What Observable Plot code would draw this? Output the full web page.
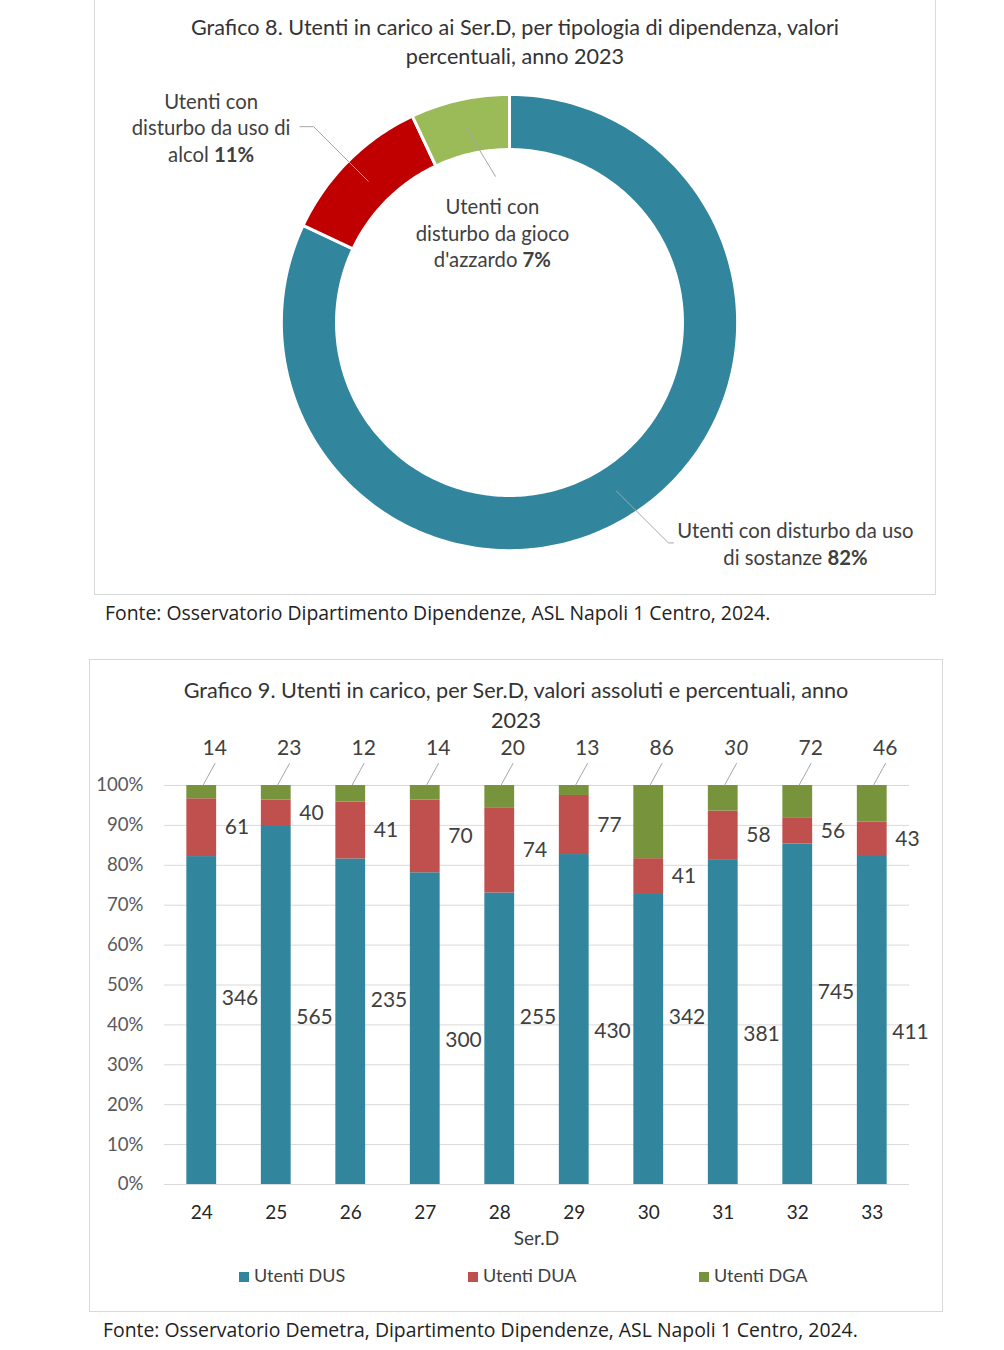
<!DOCTYPE html>
<html>
<head>
<meta charset="utf-8">
<script src="https://cdn.jsdelivr.net/npm/d3@7"></script>
<script src="https://cdn.jsdelivr.net/npm/@observablehq/plot@0.6"></script>
<style>
  body { margin: 0; background: #fff; font-family: Lato, sans-serif; color: #404040; }
  #page { position: relative; width: 1004px; height: 1350px; overflow: hidden; background: #fff; }
  .panel { position: absolute; border: 1.5px solid #d9d9d9; box-sizing: border-box; }
  .title { position: absolute; text-align: center; font-size: 21.6px; color: #333; white-space: nowrap; }
  .src { position: absolute; font-family: "Open Sans", sans-serif; font-size: 19.4px; line-height: 26px; color: #222; white-space: nowrap; }
  .chart { position: absolute; left: 0; }
  .legend { position: absolute; top: 1263px; font-size: 18px; line-height: 24px; color: #404040; white-space: nowrap; }
  .legend span.sw { display: inline-block; width: 10px; height: 10px; margin-right: 5px; vertical-align: 0px; }
  .axtitle { position: absolute; left: 164px; width: 745px; top: 1226px; text-align: center; font-size: 19px; line-height: 24px; color: #404040; }
</style>
</head>
<body>
<div id="page">
  <div class="panel" style="left:94px;top:-10px;width:842px;height:605px;"></div>
  <div class="title" style="left:94px;width:842px;top:13px;line-height:29px;">Grafico 8. Utenti in carico ai Ser.D, per tipologia di dipendenza, valori<br>percentuali, anno 2023</div>
  <div id="donut" class="chart" style="top:80px;"></div>
  <div class="src" style="left:105px;top:600px;">Fonte: Osservatorio Dipartimento Dipendenze, ASL Napoli 1 Centro, 2024.</div>

  <div class="panel" style="left:89px;top:659px;width:854px;height:653px;"></div>
  <div class="title" style="left:89px;width:854px;top:675px;line-height:30px;">Grafico 9. Utenti in carico, per Ser.D, valori assoluti e percentuali, anno<br>2023</div>
  <div id="bars" class="chart" style="top:735px;"></div>
  <div class="axtitle">Ser.D</div>
  <div id="legend"></div>
  <div class="src" style="left:103px;top:1317px;">Fonte: Osservatorio Demetra, Dipartimento Dipendenze, ASL Napoli 1 Centro, 2024.</div>
</div>

<script>
// ---------------- DATA ----------------
// Grafico 8
const donutCategories = [
  "Utenti con disturbo da uso di sostanze",
  "Utenti con disturbo da uso di alcol",
  "Utenti con disturbo da gioco d'azzardo"
];
const donutShares = [82, 11, 7];

// Grafico 9
const serd = ["24", "25", "26", "27", "28", "29", "30", "31", "32", "33"];
const seriesNames = ["Utenti DUS", "Utenti DUA", "Utenti DGA"];
const utentiDUS = [346, 565, 235, 300, 255, 430, 342, 381, 745, 411];
const utentiDUA = [61, 40, 41, 70, 74, 77, 41, 58, 56, 43];
const utentiDGA = [14, 23, 12, 14, 20, 13, 86, 30, 72, 46];
const yTicks = [0, 0.1, 0.2, 0.3, 0.4, 0.5, 0.6, 0.7, 0.8, 0.9, 1];

// ---------------- STYLE ----------------
const donutColors = ["#31859C", "#C00000", "#9BBB59"];
const barColors = ["#31859C", "#C0504D", "#77933C"];
const leaderColor = "#a6a6a6";
const labelColor = "#404040";
// label wrapping and placement (layout only)
const donutLabelLayout = {
  "Utenti con disturbo da uso di sostanze": {text: "Utenti con disturbo da uso\ndi sostanze", r: 1.15, ex: 0.084, hook: 0.022, dx: 122, dy: 0},
  "Utenti con disturbo da uso di alcol": {text: "Utenti con\ndisturbo da uso di\nalcol", r: 1.22, ex: 0, hook: -0.06, dx: -89, dy: 0},
  "Utenti con disturbo da gioco d'azzardo": {text: "Utenti con\ndisturbo da gioco\nd'azzardo", r: 0.66, ex: 0.082, hook: 0, dx: -3, dy: 56}
};
const italicLabels = new Set(["31"]);

// ---------------- DONUT ----------------
const total = d3.sum(donutShares);
let acc = 0;
const slices = donutShares.map((v, i) => {
  const a0 = acc / total * 2 * Math.PI; acc += v;
  const a1 = acc / total * 2 * Math.PI;
  return {key: donutCategories[i], value: v, a0, a1, mid: (a0 + a1) / 2};
});
const R1 = 1.005, R0 = 0.762;
const arcPts = slices.flatMap(s => {
  const n = Math.max(2, Math.ceil((s.a1 - s.a0) / (Math.PI / 180)));
  const pts = [];
  for (let k = 0; k <= n; k++) { const a = s.a0 + (s.a1 - s.a0) * k / n; pts.push({key: s.key, x: R1 * Math.sin(a), y: R1 * Math.cos(a)}); }
  for (let k = n; k >= 0; k--) { const a = s.a0 + (s.a1 - s.a0) * k / n; pts.push({key: s.key, x: R0 * Math.sin(a), y: R0 * Math.cos(a)}); }
  return pts;
});
const leaderPts = slices.flatMap(s => {
  const L = donutLabelLayout[s.key];
  const dx = Math.sin(s.mid), dy = Math.cos(s.mid);
  const ex = dx * L.r + L.ex, ey = dy * L.r;
  const pts = [
    {key: s.key, x: dx * 0.88, y: dy * 0.88},
    {key: s.key, x: ex, y: ey}
  ];
  if (L.hook) pts.push({key: s.key, x: ex + L.hook, y: ey});
  return pts;
});
const labelPts = slices.map(s => {
  const L = donutLabelLayout[s.key];
  const dx = Math.sin(s.mid), dy = Math.cos(s.mid);
  return {key: s.key, x: dx * L.r + L.ex + L.hook, y: dy * L.r,
          text: L.text + " " + Math.round(s.value / total * 100) + "%", ldx: L.dx, ldy: L.dy};
});

const donut = Plot.plot({
  width: 1004, height: 500,
  marginLeft: 282, marginRight: 268, marginTop: 15, marginBottom: 31,
  x: {domain: [-1, 1], axis: null},
  y: {domain: [-1, 1], axis: null},
  color: {domain: donutCategories, range: donutColors},
  style: {fontFamily: "Lato, sans-serif", fontSize: "20px", color: labelColor, background: "transparent", overflow: "visible"},
  marks: [
    Plot.line(arcPts, {x: "x", y: "y", z: "key", fill: "key", stroke: "white", strokeWidth: 3, curve: "linear-closed"}),
    Plot.line(leaderPts, {x: "x", y: "y", z: "key", stroke: leaderColor, strokeWidth: 1}),
    ...labelPts.map(l => Plot.text([l], {x: "x", y: "y", text: "text", dx: l.ldx, dy: l.ldy, textAnchor: "middle", lineAnchor: "middle", lineHeight: 1.3, fill: labelColor, fontSize: 20.3}))
  ]
});
document.getElementById("donut").appendChild(donut);

// bold the percentages
function boldPercent(root) {
  root.querySelectorAll("text").forEach(t => {
    const targets = t.querySelectorAll("tspan").length ? t.querySelectorAll("tspan") : [t];
    targets.forEach(el => {
      const m = /^(.*?)(\d+%)$/.exec(el.textContent);
      if (!m) return;
      el.textContent = m[1];
      const b = document.createElementNS("http://www.w3.org/2000/svg", "tspan");
      b.setAttribute("font-weight", "bold");
      b.textContent = m[2];
      el.appendChild(b);
    });
  });
}
boldPercent(donut);

// ---------------- BARS ----------------
const rows = serd.map((s, i) => {
  const t = utentiDUS[i] + utentiDUA[i] + utentiDGA[i];
  return {i, serd: s, dus: utentiDUS[i], dua: utentiDUA[i], dga: utentiDGA[i], t};
});
const segs = rows.flatMap(r => {
  let c = 0;
  return [r.dus, r.dua, r.dga].map((v, k) => {
    const y1 = c / r.t; c += v;
    return {i: r.i, series: seriesNames[k], value: v, y1, y2: c / r.t};
  });
});
const halfBar = 0.2;
const leadDX = 0.18, leadDY = 0.056;

const bars = Plot.plot({
  width: 1004, height: 520,
  marginLeft: 164, marginRight: 95, marginTop: 50, marginBottom: 71,
  x: {type: "linear", domain: [-0.5, 9.5]},
  y: {domain: [0, 1]},
  color: {domain: seriesNames, range: barColors},
  style: {fontFamily: "Lato, sans-serif", fontSize: "18px", color: labelColor, background: "transparent", overflow: "visible"},
  marks: [
    Plot.ruleY(yTicks, {stroke: "#d9d9d9", strokeWidth: 1}),
    Plot.rectY(segs, {x1: d => d.i - halfBar, x2: d => d.i + halfBar, y1: "y1", y2: "y2", fill: "series"}),
    Plot.axisY(yTicks, {tickFormat: d3.format(".0%"), tickSize: 0, tickPadding: 21, fontSize: 18.6, fill: "#595959", label: null}),
    Plot.axisX(rows.map(r => r.i), {tickFormat: i => serd[i], tickSize: 0, tickPadding: 21, fontSize: 19, fill: "#262626", label: null}),
    // DUS labels
    Plot.text(rows, {x: "i", y: d => d.dus / d.t / 2 + (d.i % 2 ? -0.03 : 0.055), text: "dus", dx: 20, textAnchor: "start", fontSize: 21, fill: labelColor}),
    // DUA labels
    Plot.text(rows, {x: "i", y: d => (d.dus + d.dua / 2) / d.t, text: "dua", dx: 23, textAnchor: "start", fontSize: 21, fill: labelColor}),
    // DGA leaders and labels
    Plot.link(rows, {x1: d => d.i + 0.015, y1: 1, x2: d => d.i + leadDX, y2: 1 + leadDY, stroke: leaderColor, strokeWidth: 1}),
    Plot.text(rows.filter(r => !italicLabels.has(r.serd)), {x: "i", y: 1, text: "dga", dx: 13, dy: -37, fontSize: 21, fill: labelColor}),
    Plot.text(rows.filter(r => italicLabels.has(r.serd)), {x: "i", y: 1, text: "dga", dx: 13, dy: -37, fontSize: 21, fill: labelColor, fontStyle: "italic"})
  ]
});
document.getElementById("bars").appendChild(bars);

// ---------------- LEGEND ----------------
const legendX = [239, 468, 699];
const legend = document.getElementById("legend");
seriesNames.forEach((name, k) => {
  const item = document.createElement("div");
  item.className = "legend";
  item.style.left = legendX[k] + "px";
  item.innerHTML = `<span class="sw" style="background:${barColors[k]}"></span>${name}`;
  legend.appendChild(item);
});
</script>
</body>
</html>
